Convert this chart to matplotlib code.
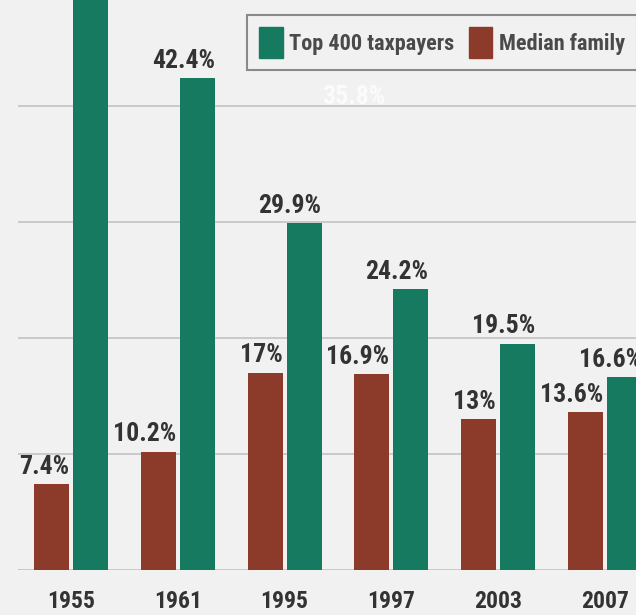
import matplotlib
matplotlib.use("Agg")
import matplotlib.pyplot as plt
from matplotlib import font_manager
from matplotlib.patches import Patch
import numpy as np

years = ["1955", "1961", "1995", "1997", "2003", "2007"]
median_family = [7.4, 10.2, 17.0, 16.9, 13.0, 13.6]
top_400 = [51.2, 42.4, 29.9, 24.2, 19.5, 16.6]
median_labels = ["7.4%", "10.2%", "17%", "16.9%", "13%", "13.6%"]
top_labels = ["51.2%", "42.4%", "29.9%", "24.2%", "19.5%", "16.6%"]

BG = "#f1f1f1"
GREEN = "#157a5f"
BROWN = "#8c3a2a"
TEXT = "#333333"
GRID = "#c9c9c9"

# Prefer a narrow bold face; fall back to a regular-width one at smaller sizes.
installed = {f.name for f in font_manager.fontManager.ttflist}
if "Liberation Sans Narrow" in installed:
    face, fs_val, fs_tick, fs_leg = "Liberation Sans Narrow", 19.5, 18, 17.3
elif "Roboto Condensed" in installed:
    face, fs_val, fs_tick, fs_leg = "Roboto Condensed", 18.5, 17, 16
else:
    face, fs_val, fs_tick, fs_leg = "Liberation Sans", 15.5, 15, 14.2

plt.rcParams["font.family"] = [face, "DejaVu Sans"]
plt.rcParams["font.weight"] = "bold"

W, H = 636, 615
fig = plt.figure(figsize=(W / 100, H / 100), dpi=100, facecolor=BG)

left_px, base_px = 18, 570
ax = fig.add_axes([left_px / W, (H - base_px) / H, (W - left_px) / W, base_px / H])
ax.set_facecolor(BG)

px_per_group = 106.8
x0 = -(51.5 + 19.5 - left_px) / px_per_group
ax.set_xlim(x0, x0 + (W - left_px) / px_per_group)
ymax = base_px / 11.6
ax.set_ylim(0, ymax)

x = np.arange(len(years))
off = 19.5 / px_per_group
bw = 35 / px_per_group

for y in [0, 10, 20, 30, 40]:
    ax.axhline(y, color=GRID, lw=1.4, zorder=0)

b1 = ax.bar(x - off, median_family, bw, color=BROWN, zorder=2, label="Median family")
b2 = ax.bar(x + off, top_400, bw, color=GREEN, zorder=2, label="Top 400 taxpayers")

def label_bars(bars, labels):
    for rect, txt in zip(bars, labels):
        # a bar running past the top of the plot keeps its label out of view
        if rect.get_height() >= ymax:
            continue
        ax.annotate(txt, (rect.get_x() + rect.get_width(), rect.get_height()),
                    xytext=(0, 7.5), textcoords="offset points",
                    ha="right", va="baseline", fontsize=fs_val, color=TEXT,
                    fontweight="bold", zorder=3, annotation_clip=False)

label_bars(b1, median_labels)
label_bars(b2, top_labels)

ax.text(x[2] + 0.65, 40.8, "35.8%", color="white", fontsize=fs_val,
        fontweight="bold", ha="center", va="center", alpha=0.75, zorder=1)

ax.set_xticks(x)
ax.set_xticklabels(years, fontsize=fs_tick, color=TEXT, fontweight="bold")
ax.tick_params(axis="x", length=0, pad=14.5)
ax.set_yticks([])
for s in ax.spines.values():
    s.set_visible(False)

handles = [Patch(color=GREEN), Patch(color=BROWN)]
leg = ax.legend(handles, ["Top 400 taxpayers", "Median family"], ncol=2,
                loc="upper left",
                bbox_to_anchor=((247 - left_px) / (W - left_px), 1 - 15 / base_px),
                bbox_transform=ax.transAxes, borderaxespad=0, frameon=True,
                fancybox=False, edgecolor="#8a8a8a", facecolor=BG, framealpha=1,
                fontsize=fs_leg, handlelength=1.05, handleheight=1.75,
                handletextpad=0.3, columnspacing=0.65, borderpad=0.55)
leg.get_frame().set_linewidth(1.5)
for t in leg.get_texts():
    t.set_color("#4a4a4a")
    t.set_fontweight("bold")
leg.set_zorder(5)

fig.savefig("out.png", dpi=100, facecolor=BG)
